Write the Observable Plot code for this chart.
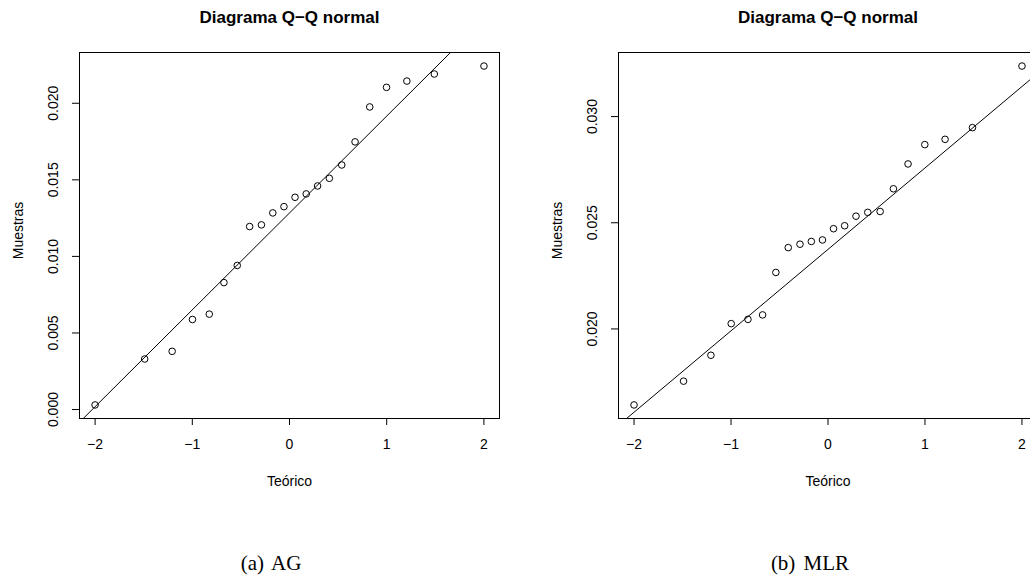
<!DOCTYPE html>
<html><head><meta charset="utf-8">
<script src="https://cdn.jsdelivr.net/npm/d3@7"></script>
<script src="https://cdn.jsdelivr.net/npm/@observablehq/plot@0.6"></script>
<style>
html,body{margin:0;padding:0;background:#fff;overflow:hidden;width:1030px;height:581px;}
#wrap{position:relative;width:1030px;height:581px;overflow:hidden;background:#fff;}
.panel{position:absolute;top:0;overflow:hidden;height:520px;}
.panel svg{max-width:none !important;}
.cap{position:absolute;top:553px;font-family:"Liberation Serif","Times New Roman",serif;font-size:21px;line-height:21px;transform:translateX(-50%);white-space:nowrap;word-spacing:3px;color:#000;}
</style></head><body>
<div id="wrap">
<div id="p1" class="panel" style="left:0;width:520px"></div>
<div id="p2" class="panel" style="left:520px;width:510px"></div>
<div class="cap" style="left:271px">(a) AG</div>
<div class="cap" style="left:810px">(b) MLR</div>
</div>
<script>
// Theoretical normal quantiles (x axis)
const theoretical = [-2.0004,-1.4897,-1.2074,-0.9982,-0.8255,-0.6745,-0.5375,-0.4099,-0.2888,-0.1718,-0.0570,
                      0.0570,0.1718,0.2888,0.4099,0.5375,0.6745,0.8255,0.9982,1.2074,1.4897,2.0004];
// Sample quantiles (y axis)
const muestrasAG = [0.0003,0.0033,0.0038,0.00588,0.00623,0.00829,0.00941,0.01195,0.01206,0.01284,0.01325,
                    0.01386,0.01408,0.0146,0.0151,0.01597,0.01748,0.01976,0.02104,0.02145,0.02191,0.02243];
const muestrasMLR = [0.01642,0.01754,0.01876,0.02025,0.02045,0.02066,0.02266,0.02383,0.02399,0.02412,0.02419,
                     0.02472,0.02486,0.02531,0.02549,0.02553,0.0266,0.02777,0.02868,0.02893,0.02948,0.03238];
const xTicks = [-2,-1,0,1,2];
const yTicksAG = [0,0.005,0.010,0.015,0.020];
const yTicksMLR = [0.020,0.025,0.030];
const titleText = "Diagrama Q\u2212Q normal";
const xLabel = "Teórico";
const yLabel = "Muestras";

function panel(values, yTicks, width, marginLeft, marginRight) {
  const data = theoretical.map((t, i) => ({t, v: values[i]}));
  const [x0, x1] = d3.extent(theoretical); const px = 0.04 * (x1 - x0);
  const xDomain = [x0 - px, x1 + px];
  const [y0, y1] = d3.extent(values); const py = 0.04 * (y1 - y0);
  const yDomain = [y0 - py, y1 + py];
  // qqline through the quartiles
  const sorted = values.slice().sort(d3.ascending);
  const q1 = d3.quantileSorted(sorted, 0.25), q3 = d3.quantileSorted(sorted, 0.75);
  const z = 0.6744898;
  const slope = (q3 - q1) / (2 * z), intercept = q1 + slope * z;
  const lineData = xDomain.map(x => ({t: x, v: intercept + slope * x}));
  const fmt = d3.format(".3f");
  const xfmt = d => (d < 0 ? "\u2212" : "") + Math.abs(d);
  return Plot.plot({
    width, height: 500, marginTop: 52, marginBottom: 82, marginLeft, marginRight,
    style: {fontFamily: "'Liberation Sans', Arial, sans-serif", fontSize: "14px", background: "white", color: "black", overflow: "visible", maxWidth: "none"},
    x: {domain: xDomain}, y: {domain: yDomain},
    marks: [
      Plot.frame({stroke: "black", strokeWidth: 1}),
      Plot.line(lineData, {x: "t", y: "v", stroke: "black", strokeWidth: 1, clip: true}),
      Plot.dot(data, {x: "t", y: "v", r: 3.3, stroke: "black", strokeWidth: 1, fill: "none"}),
      Plot.axisX({ticks: xTicks, tickSize: 7, tickPadding: 14, tickFormat: xfmt, label: null, fontSize: 14}),
      Plot.axisY({ticks: yTicks, tickSize: 7, tickFormat: () => "", label: null}),
      Plot.text(yTicks, {y: d => d, text: d => fmt(d), frameAnchor: "left", dx: -26, rotate: -90, textAnchor: "middle", lineAnchor: "middle", fontSize: 14}),
      Plot.text([titleText], {frameAnchor: "top", dy: -35, fontWeight: "bold", fontSize: 17, lineAnchor: "middle"}),
      Plot.text([xLabel], {frameAnchor: "bottom", dy: 63.5, fontSize: 14, lineAnchor: "middle"}),
      Plot.text([yLabel], {frameAnchor: "left", dx: -61, dy: -5, rotate: -90, fontSize: 14, lineAnchor: "middle", textAnchor: "middle"})
    ]
  });
}

document.getElementById("p1").append(panel(muestrasAG, yTicksAG, 520, 79, 21));
document.getElementById("p2").append(panel(muestrasMLR, yTicksMLR, 540, 98, 23));
</script>
</body></html>
